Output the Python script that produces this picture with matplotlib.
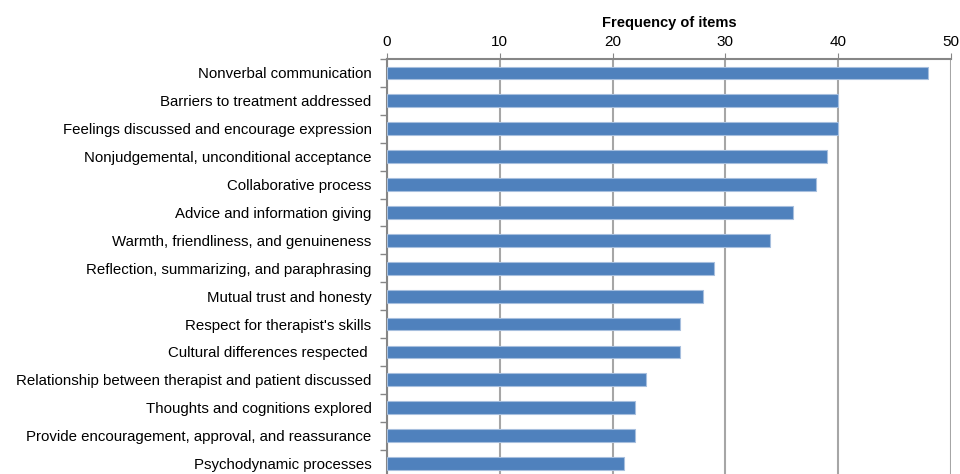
import numpy as np
import matplotlib.pyplot as plt
from matplotlib.ticker import FixedLocator

# 数据
categories = [
    "Nonverbal communication",
    "Barriers to treatment addressed",
    "Feelings discussed and encourage expression",
    "Nonjudgemental, unconditional acceptance",
    "Collaborative process",
    "Advice and information giving",
    "Warmth, friendliness, and genuineness",
    "Reflection, summarizing, and paraphrasing",
    "Mutual trust and honesty",
    "Respect for therapist's skills",
    "Cultural differences respected ",
    "Relationship between therapist and patient discussed",
    "Thoughts and cognitions explored",
    "Provide encouragement, approval, and reassurance",
    "Psychodynamic processes",
]
values = [48, 40, 40, 39, 38, 36, 34, 29, 28, 26, 26, 23, 22, 22, 21]
x_ticks = [0, 10, 20, 30, 40, 50]

plt.rcParams["font.family"] = ["Liberation Sans", "DejaVu Sans"]

fig = plt.figure(figsize=(9.6, 4.74), dpi=100)
ax = fig.add_axes([0.403, -0.0074, 0.5876, 0.8829])

y = np.arange(len(categories))
ax.barh(y, values, height=0.46, color="#4F81BD", edgecolor="#A7BFDE",
        linewidth=0.8, zorder=3)

ax.set_xlim(0, 50)
ax.set_ylim(len(categories) - 0.5, -0.5)

ax.xaxis.tick_top()
ax.xaxis.set_label_position("top")
ax.set_xticks(x_ticks)
ax.set_xticklabels([str(t) for t in x_ticks], fontsize=11)
ax.set_xlabel("Frequency of items", fontsize=10.5, fontweight="bold", labelpad=6)
ax.tick_params(axis="x", length=4, color="#868686", pad=3)

ax.set_yticks(y)
ax.set_yticklabels(categories, fontsize=10.8)
ax.tick_params(axis="y", which="major", length=0, pad=11)
ax.yaxis.set_minor_locator(FixedLocator(np.arange(-0.5, len(categories), 1.0)))
ax.tick_params(axis="y", which="minor", length=5, color="#868686", width=1)

ax.grid(axis="x", color="#A6A6A6", linewidth=1.5, zorder=0)
for side in ["right", "bottom"]:
    ax.spines[side].set_visible(False)
for side in ["left", "top"]:
    ax.spines[side].set_color("#868686")
    ax.spines[side].set_linewidth(1.5)

fig.savefig("out.png", dpi=100)
